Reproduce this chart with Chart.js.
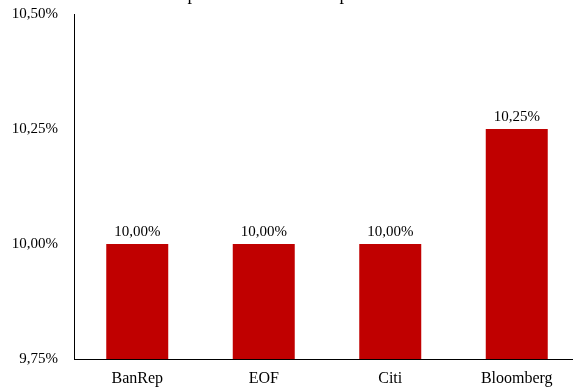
<!DOCTYPE html>
<html>
<head>
<meta charset="utf-8">
<script src="https://cdn.jsdelivr.net/npm/chart.js@4.4.1/dist/chart.umd.min.js"></script>
<style>
  html, body { margin: 0; padding: 0; background: #fff; overflow: hidden; }
  #wrap { position: relative; width: 582px; height: 388px; }
</style>
</head>
<body>
<div id="wrap"><canvas id="c"></canvas></div>
<script>
// Survey sources and expected policy rate (%)
const categories = ['BanRep', 'EOF', 'Citi', 'Bloomberg'];
const rateValues = [10.00, 10.00, 10.00, 10.25];
const yTicks = [9.75, 10.00, 10.25, 10.50];
const titleText = 'Gráfico 1. Expectativas de tasa de política monetaria';

const FONT = '"Liberation Serif", "Times New Roman", serif';
const fmt = v => v.toFixed(2).replace('.', ',') + '%';

// Title sits above the canvas top edge; only its lower part shows
const titlePlugin = {
  id: 'topTitle',
  afterDraw(chart) {
    const ctx = chart.ctx;
    ctx.save();
    ctx.font = '18px ' + FONT;
    ctx.fillStyle = '#000';
    ctx.textAlign = 'center';
    ctx.textBaseline = 'alphabetic';
    ctx.fillText(titleText, 280, 0);
    ctx.restore();
  }
};

// Value labels above each bar
const valueLabels = {
  id: 'valueLabels',
  afterDatasetsDraw(chart) {
    const ctx = chart.ctx;
    const meta = chart.getDatasetMeta(0);
    ctx.save();
    ctx.font = '15px ' + FONT;
    ctx.fillStyle = '#000';
    ctx.textAlign = 'center';
    ctx.textBaseline = 'bottom';
    meta.data.forEach((bar, i) => {
      ctx.fillText(fmt(chart.data.datasets[0].data[i]), bar.x, bar.y - 4);
    });
    ctx.restore();
  }
};

new Chart(document.getElementById('c'), {
  type: 'bar',
  data: {
    labels: categories,
    datasets: [{
      data: rateValues,
      backgroundColor: '#C00000',
      borderWidth: 0,
      barPercentage: 0.49,
      categoryPercentage: 1.0
    }]
  },
  options: {
    responsive: true,
    maintainAspectRatio: false,
    animation: false,
    layout: { padding: { top: 14, right: 2, left: 0, bottom: 0 } },
    plugins: {
      legend: { display: false },
      tooltip: { enabled: false },
      title: { display: false }
    },
    scales: {
      x: {
        grid: { display: false, drawTicks: false },
        border: { display: true, color: '#000', width: 1 },
        ticks: { color: '#000', font: { family: FONT, size: 16 }, padding: 10, maxRotation: 0 },
        afterFit(s) { s.height = 29; s.paddingLeft = 0; s.paddingRight = 0; }
      },
      y: {
        min: 9.75,
        max: 10.5,
        grid: { display: false, drawTicks: false },
        border: { display: true, color: '#000', width: 1 },
        afterBuildTicks(s) { s.ticks = yTicks.map(v => ({ value: v })); },
        ticks: {
          color: '#000',
          font: { family: FONT, size: 15 },
          padding: 16,
          callback: v => fmt(v)
        },
        afterFit(s) { s.width = 74; s.paddingTop = 0; s.paddingBottom = 0; }
      }
    }
  },
  plugins: [valueLabels, titlePlugin]
});
</script>
</body>
</html>
